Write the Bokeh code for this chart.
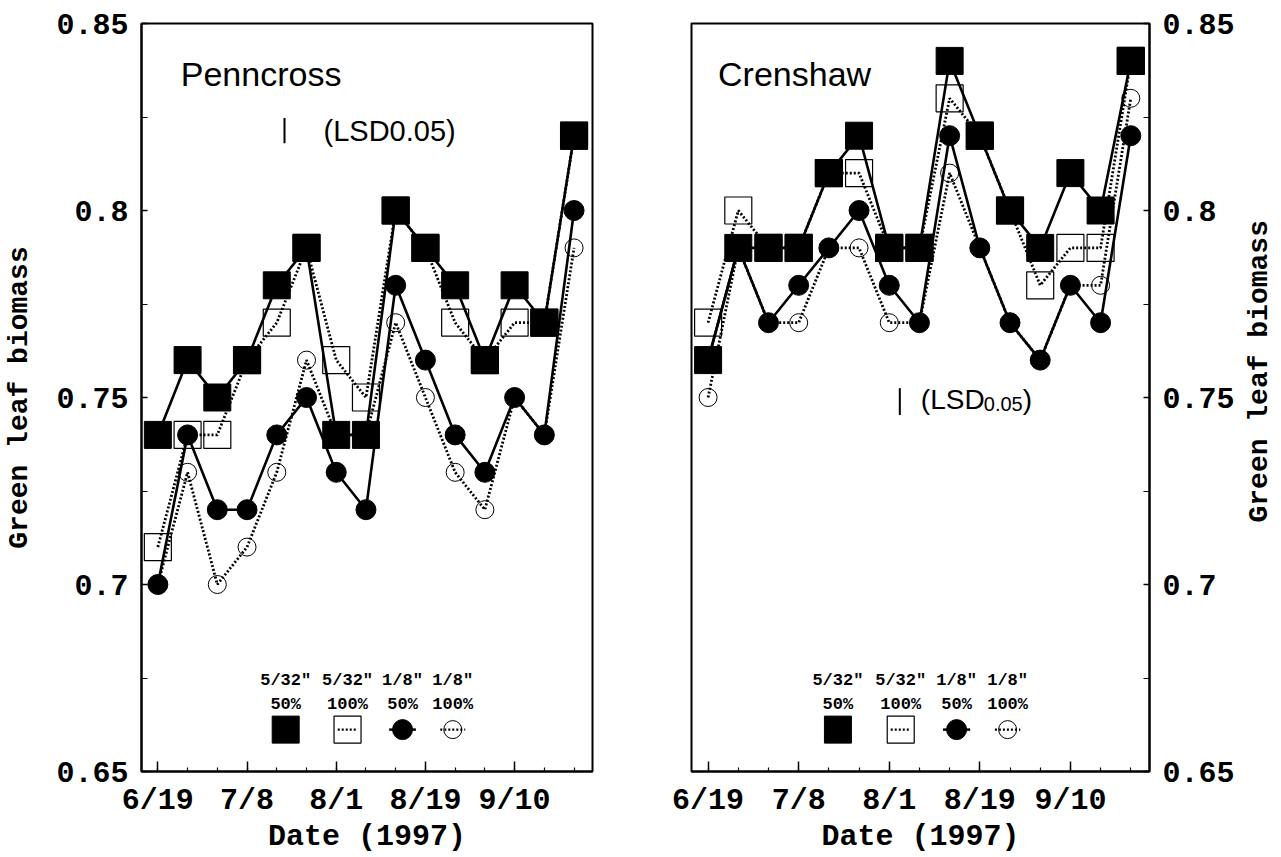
import math
from bokeh.plotting import figure
from bokeh.layouts import row
from bokeh.models import FixedTicker, Label, Range1d
from bokeh.core.properties import value
from bokeh.embed import file_html
from bokeh.resources import INLINE

# ---------------- data ----------------
date_index = list(range(15))
date_tick_pos = [0, 3, 6, 9, 12]
date_tick_labels = ["6/19", "7/8", "8/1", "8/19", "9/10"]

y_ticks = [0.65, 0.70, 0.75, 0.80, 0.85]
y_tick_labels = ["0.65", "0.7", "0.75", "0.8", "0.85"]
y_minor = [0.675, 0.725, 0.775, 0.825]

# Penncross
pen_532_50 = [0.74, 0.76, 0.75, 0.76, 0.78, 0.79, 0.74, 0.74, 0.80, 0.79, 0.78, 0.76, 0.78, 0.77, 0.82]
pen_532_100 = [0.71, 0.74, 0.74, 0.76, 0.77, 0.79, 0.76, 0.75, 0.80, 0.79, 0.77, 0.76, 0.77, 0.77, 0.82]
pen_18_50 = [0.70, 0.74, 0.72, 0.72, 0.74, 0.75, 0.73, 0.72, 0.78, 0.76, 0.74, 0.73, 0.75, 0.74, 0.80]
pen_18_100 = [0.70, 0.73, 0.70, 0.71, 0.73, 0.76, 0.74, 0.74, 0.77, 0.75, 0.73, 0.72, 0.75, 0.74, 0.79]

# Crenshaw
cre_532_50 = [0.76, 0.79, 0.79, 0.79, 0.81, 0.82, 0.79, 0.79, 0.84, 0.82, 0.80, 0.79, 0.81, 0.80, 0.84]
cre_532_100 = [0.77, 0.80, 0.79, 0.79, 0.81, 0.81, 0.79, 0.79, 0.83, 0.82, 0.80, 0.78, 0.79, 0.79, 0.84]
cre_18_50 = [0.76, 0.79, 0.77, 0.78, 0.79, 0.80, 0.78, 0.77, 0.82, 0.79, 0.77, 0.76, 0.78, 0.77, 0.82]
cre_18_100 = [0.75, 0.79, 0.77, 0.77, 0.79, 0.79, 0.77, 0.77, 0.81, 0.79, 0.77, 0.76, 0.78, 0.78, 0.83]

# LSD(0.05) bars: [x position (date index), lower, upper]
pen_lsd = [4.26, 0.8180, 0.8247]
cre_lsd = [6.35, 0.7453, 0.7525]

legend_top = ['5/32"', '5/32"', '1/8"', '1/8"']
legend_bottom = ["50%", "100%", "50%", "100%"]
legend_x = [4.3, 6.38, 8.23, 9.92]
legend_rows_y = [0.6742, 0.6678, 0.6612]

Y_LABEL = "Green leaf biomass"
X_LABEL = "Date (1997)"

MONO = "Liberation Mono"
SANS = "Liberation Sans"
X_START, X_END = -0.55, 14.62
FIG_H = 856


def style_axes(p, yaxis, with_ylabel):
    xa = p.xaxis[0]
    xa.ticker = FixedTicker(ticks=date_tick_pos, minor_ticks=date_index)
    xa.major_label_overrides = {t: l for t, l in zip(date_tick_pos, date_tick_labels)}
    xa.axis_label = X_LABEL
    for ax in (xa, yaxis):
        ax.major_label_text_font = MONO
        ax.major_label_text_font_style = "bold"
        ax.major_label_text_font_size = "30px"
        ax.major_label_text_color = "black"
        ax.axis_label_text_font = MONO
        ax.axis_label_text_font_style = "bold"
        ax.axis_label_text_color = "black"
        ax.axis_line_width = 2
        ax.axis_line_color = "black"
        ax.major_tick_line_color = "black"
        ax.minor_tick_line_color = "black"
        ax.major_tick_line_width = 1.5
        ax.minor_tick_line_width = 1.2
        ax.major_tick_out = 0
        ax.minor_tick_out = 0
    xa.axis_label_text_font_size = "30px"
    xa.major_tick_in = 10
    xa.minor_tick_in = 4
    xa.major_label_standoff = 12
    xa.axis_label_standoff = -1
    yaxis.ticker = FixedTicker(ticks=y_ticks, minor_ticks=y_minor)
    yaxis.major_label_overrides = {t: l for t, l in zip(y_ticks, y_tick_labels)}
    if with_ylabel:
        yaxis.axis_label = Y_LABEL
        yaxis.axis_label_text_font_size = "28px"
        yaxis.axis_label_standoff = 18
    yaxis.major_tick_in = 6
    yaxis.minor_tick_in = 6
    yaxis.major_label_standoff = 13


def make_panel(name, s50, s100, c50, c100, lsd, side, width, bl, br, lsd_style):
    p = figure(width=width, height=FIG_H, x_range=Range1d(X_START, X_END), y_range=Range1d(0.65, 0.85),
               y_axis_location=side, min_border_left=bl, min_border_right=br,
               min_border_top=23, min_border_bottom=FIG_H - 23 - 750,
               output_backend="svg", toolbar_location=None)
    p.xgrid.visible = False
    p.ygrid.visible = False
    p.outline_line_color = "black"
    p.outline_line_width = 2
    p.background_fill_color = "white"
    p.border_fill_color = "white"
    yaxis = p.yaxis[0]
    style_axes(p, yaxis, side == "left")

    # series (open first, filled on top)
    p.line(date_index, c100, line_color="black", line_width=2.8, line_dash="2 2")
    p.scatter(date_index, c100, marker="circle", size=18, fill_color=None, line_color="black", line_width=1)
    p.line(date_index, s100, line_color="black", line_width=2.8, line_dash="2 2")
    p.scatter(date_index, s100, marker="square", size=27, fill_color=None, line_color="black", line_width=1.2)
    p.line(date_index, c50, line_color="black", line_width=2.6)
    p.scatter(date_index, c50, marker="circle", size=20, fill_color="black", line_color="black")
    p.line(date_index, s50, line_color="black", line_width=2.6)
    p.scatter(date_index, s50, marker="square", size=27, fill_color="black", line_color="black")

    # panel title
    p.add_layout(Label(x=0.77 if side == "left" else 0.33, y=0.8364, text=name,
                       text_font=SANS, text_font_size="34px", text_color="black",
                       text_baseline="alphabetic", text_align="left"))

    # LSD bar
    p.segment(x0=[lsd[0]], y0=[lsd[1]], x1=[lsd[0]], y1=[lsd[2]], line_color="black", line_width=2)
    ymid = (lsd[1] + lsd[2]) / 2
    if lsd_style == "plain":
        p.add_layout(Label(x=lsd[0], y=ymid, x_offset=39, text="(LSD0.05)", text_font=SANS,
                           text_font_size="29px", text_baseline="middle", text_align="left",
                           text_color="black"))
    else:
        p.add_layout(Label(x=lsd[0], y=ymid, x_offset=21, y_offset=2, text="(LSD", text_font=SANS,
                           text_font_size="28px", text_baseline="middle", text_align="left",
                           text_color="black"))
        p.add_layout(Label(x=lsd[0], y=ymid, x_offset=84, y_offset=-2, text="0.05", text_font=SANS,
                           text_font_size="20px", text_baseline="middle", text_align="left",
                           text_color="black"))
        p.add_layout(Label(x=lsd[0], y=ymid, x_offset=123, y_offset=2, text=")", text_font=SANS,
                           text_font_size="28px", text_baseline="middle", text_align="left",
                           text_color="black"))

    # legend
    ty, by, sy = legend_rows_y
    p.text(x=legend_x, y=[ty] * 4, text=legend_top, text_font=value(MONO), text_font_style="bold",
           text_font_size="17px", text_align="center", text_baseline="middle", text_color="black")
    p.text(x=legend_x, y=[by] * 4, text=legend_bottom, text_font=value(MONO), text_font_style="bold",
           text_font_size="17px", text_align="center", text_baseline="middle", text_color="black")
    lx0, lx1, lx2, lx3 = legend_x
    p.scatter([lx0], [sy], marker="square", size=27, fill_color="black", line_color="black")
    p.segment(x0=[lx1 - 0.33], y0=[sy], x1=[lx1 + 0.33], y1=[sy], line_color="black", line_width=2.2, line_dash="2 2")
    p.scatter([lx1], [sy], marker="square", size=27, fill_color=None, line_color="black", line_width=1.2)
    p.segment(x0=[lx2 - 0.45], y0=[sy], x1=[lx2 + 0.45], y1=[sy], line_color="black", line_width=2.5)
    p.scatter([lx2], [sy], marker="circle", size=20, fill_color="black", line_color="black")
    p.segment(x0=[lx3 - 0.42], y0=[sy], x1=[lx3 + 0.42], y1=[sy], line_color="black", line_width=2.2, line_dash="2 2")
    p.scatter([lx3], [sy], marker="circle", size=18, fill_color=None, line_color="black", line_width=1)
    return p, yaxis


LEFT_FRAME_W = 451
RIGHT_FRAME_W = 458

p1, ya1 = make_panel("Penncross", pen_532_50, pen_532_100, pen_18_50, pen_18_100, pen_lsd,
                     "left", 141 + LEFT_FRAME_W + 26, 141, 26, "plain")

p2, ya2 = make_panel("Crenshaw", cre_532_50, cre_532_100, cre_18_50, cre_18_100, cre_lsd,
                     "right", 73 + RIGHT_FRAME_W + 95, 73, 95, "sub")

# narrow strip holding the right-hand y-axis title, reading bottom-to-top like the left one
STRIP_W = 35
p3 = figure(width=STRIP_W, height=FIG_H, x_range=Range1d(0, STRIP_W), y_range=Range1d(0, FIG_H),
            min_border=0, output_backend="svg", toolbar_location=None)
p3.axis.visible = False
p3.grid.visible = False
p3.outline_line_color = None
p3.background_fill_color = "white"
p3.border_fill_color = "white"
p3.text(x=[15], y=[FIG_H - 398], text=[Y_LABEL], angle=math.pi / 2,
        text_font=value(MONO), text_font_style="bold", text_font_size="28px",
        text_align="center", text_baseline="middle", text_color="black")

layout = row(p1, p2, p3)
open("out.html", "w").write(file_html(layout, INLINE))
